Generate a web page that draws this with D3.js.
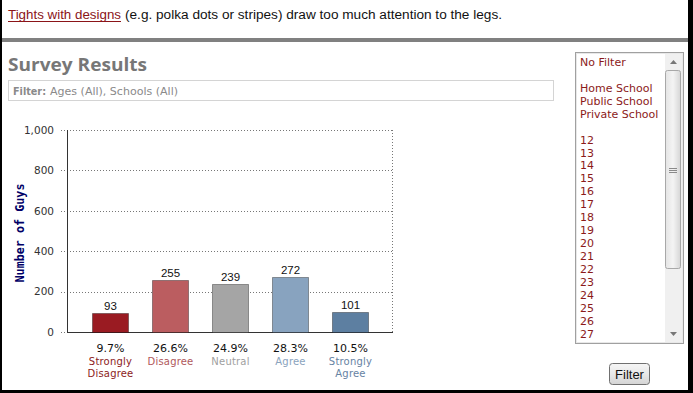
<!DOCTYPE html>
<html><head><meta charset="utf-8">
<script src="https://cdn.jsdelivr.net/npm/d3@7"></script>
<style>html,body{margin:0;padding:0;background:#fff;overflow:hidden}svg{display:block}</style>
</head><body>
<script>
// ---- data ----
const categories = ["Strongly Disagree", "Disagree", "Neutral", "Agree", "Strongly Agree"];
const labelLines = [["Strongly", "Disagree"], ["Disagree"], ["Neutral"], ["Agree"], ["Strongly", "Agree"]];
const values = [93, 255, 239, 272, 101];
const percents = ["9.7%", "26.6%", "24.9%", "28.3%", "10.5%"];
const yTicks = [0, 200, 400, 600, 800, 1000];
const barColors = ["#9a1b22", "#bb5d60", "#a5a5a5", "#88a3bf", "#5d7fa1"];
const labelColors = ["#8c1c22", "#b0585c", "#a0a0a0", "#8aa3bd", "#6683a3"];
const listItems = ["No Filter", "", "Home School", "Public School", "Private School", "",
  "12","13","14","15","16","17","18","19","20","21","22","23","24","25","26","27"];

const W = 693, H = 393;
const svg = d3.select("body").append("svg").attr("width", W).attr("height", H);
const defs = svg.append("defs");

svg.append("rect").attr("x",0).attr("y",0).attr("width",W).attr("height",H).attr("fill","#fff");

// header sentence
svg.append("text").attr("x", 8).attr("y", 19)
  .attr("font-family", "'Liberation Sans', Arial, sans-serif").attr("font-size", 12.5).attr("fill", "#8b1418")
  .attr("textLength", 113).attr("lengthAdjust","spacingAndGlyphs").text("Tights with designs");
svg.append("line").attr("x1",8).attr("x2",121).attr("y1",21.5).attr("y2",21.5).attr("stroke","#8b1418");
svg.append("text").attr("x", 125).attr("y", 19)
  .attr("font-family", "'Liberation Sans', Arial, sans-serif").attr("font-size", 12.5).attr("fill","#111")
  .attr("textLength", 377).attr("lengthAdjust","spacingAndGlyphs")
  .text("(e.g. polka dots or stripes) draw too much attention to the legs.");

// gray separator
svg.append("rect").attr("x",0).attr("y",38).attr("width",W).attr("height",4).attr("fill","#808080");

// title
svg.append("text").attr("x", 8).attr("y", 71)
  .attr("font-family", "'Open Sans', sans-serif").attr("font-weight", "bold").attr("font-size", 17.5)
  .attr("fill", "#777").attr("textLength", 139).attr("lengthAdjust","spacingAndGlyphs").text("Survey Results");

// filter box
svg.append("rect").attr("x",8.5).attr("y",80.5).attr("width",545).attr("height",20)
  .attr("fill","#fff").attr("stroke","#d4d4d4");
svg.append("text").attr("x", 13).attr("y", 94.5)
  .attr("font-family", "'DejaVu Sans', Verdana, sans-serif").attr("font-size", 10).attr("fill","#8a8a8a")
  .attr("font-weight","bold").attr("textLength", 33).attr("lengthAdjust","spacingAndGlyphs").text("Filter:");
svg.append("text").attr("x", 50).attr("y", 94.5)
  .attr("font-family", "'DejaVu Sans', Verdana, sans-serif").attr("font-size", 10).attr("fill","#8a8a8a")
  .attr("textLength", 128).attr("lengthAdjust","spacingAndGlyphs").text("Ages (All), Schools (All)");

// ---- chart ----
const x0 = 67, x1 = 392, yTop = 130, yBot = 332;
const y = d3.scaleLinear().domain([0, 1000]).range([yBot, yTop]);
const x = d3.scaleBand().domain(categories).range([80, 380]).paddingInner(0.4).paddingOuter(0.2);

const yAxis = d3.axisLeft(y).tickValues(yTicks).tickFormat(d3.format(",")).tickSize(0).tickPadding(7);
const gAxis = svg.append("g").attr("transform", `translate(${x0 - 6},0)`).call(yAxis);
gAxis.select(".domain").remove();
gAxis.selectAll("text").attr("font-family", "'DejaVu Sans', Verdana, sans-serif").attr("font-size", 10.5).attr("fill","#333");

svg.append("g").selectAll("line").data(yTicks).join("line")
  .attr("x1", x0 - 6).attr("x2", x1).attr("y1", d => Math.round(y(d)) + 0.5).attr("y2", d => Math.round(y(d)) + 0.5)
  .attr("stroke", "#777").attr("stroke-dasharray", "1,2");
svg.append("line").attr("x1", x1 + 0.5).attr("x2", x1 + 0.5).attr("y1", yTop).attr("y2", yBot)
  .attr("stroke", "#777").attr("stroke-dasharray", "1,2");
svg.append("line").attr("x1", x0 + 0.5).attr("x2", x0 + 0.5).attr("y1", yTop).attr("y2", yBot + 1).attr("stroke", "#333");
svg.append("line").attr("x1", x0).attr("x2", x1 + 1).attr("y1", yBot + 0.5).attr("y2", yBot + 0.5).attr("stroke", "#333");

// y title
svg.append("text").attr("transform", `translate(24,${(yTop + yBot) / 2 + 2}) rotate(-90)`)
  .attr("text-anchor", "middle").attr("font-family", "'DejaVu Sans Mono', monospace").attr("font-weight","bold")
  .attr("font-size", 11.5).attr("fill", "#000066").attr("textLength", 99).attr("lengthAdjust","spacingAndGlyphs")
  .text("Number of Guys");

// bars
svg.append("g").selectAll("rect").data(values).join("rect")
  .attr("x", (d, i) => x(categories[i]) + 0.5).attr("width", x.bandwidth())
  .attr("y", d => Math.round(y(d)) + 0.5).attr("height", d => yBot - Math.round(y(d)))
  .attr("fill", (d, i) => barColors[i]).attr("stroke", "#000").attr("stroke-opacity", 0.35);

// value labels
svg.append("g").selectAll("text").data(values).join("text")
  .attr("x", (d, i) => x(categories[i]) + x.bandwidth() / 2 + 0.5).attr("y", d => y(d) - 3)
  .attr("text-anchor", "middle").attr("font-family", "'Liberation Sans', Arial, sans-serif")
  .attr("font-size", 11.5).attr("fill", "#111").text(d => d);

// percent labels
svg.append("g").selectAll("text").data(percents).join("text")
  .attr("x", (d, i) => x(categories[i]) + x.bandwidth() / 2 + 0.5).attr("y", 351.5)
  .attr("text-anchor", "middle").attr("font-family", "'DejaVu Sans', Verdana, sans-serif")
  .attr("font-size", 11).attr("fill", "#111").text(d => d);

// category labels
const cl = svg.append("g").selectAll("text").data(labelLines).join("text")
  .attr("text-anchor", "middle").attr("font-family", "'DejaVu Sans', Verdana, sans-serif")
  .attr("font-size", 10).attr("letter-spacing", 0.2).attr("fill", (d, i) => labelColors[i]);
cl.selectAll("tspan").data((d, i) => d.map(t => ({t, i}))).join("tspan")
  .attr("x", d => x(categories[d.i]) + x.bandwidth() / 2 + 0.5).attr("y", (d, j) => 365 + j * 12)
  .text(d => d.t);

// ---- list box ----
svg.append("rect").attr("x",575.5).attr("y",52.5).attr("width",108).attr("height",291)
  .attr("fill","#fff").attr("stroke","#a0a0a0");
svg.append("rect").attr("x",576.5).attr("y",53.5).attr("width",106).attr("height",289)
  .attr("fill","none").attr("stroke","#e8e8e8");
svg.append("g").selectAll("text").data(listItems).join("text")
  .attr("x", 580).attr("y", (d, i) => 66 + i * 12.93)
  .attr("font-family", "'DejaVu Sans', Verdana, sans-serif").attr("font-size", 11)
  .attr("fill", "#8b1a1a").text(d => d);

// scrollbar
const sg = defs.append("linearGradient").attr("id","sg").attr("x1",0).attr("x2",1).attr("y1",0).attr("y2",0);
sg.append("stop").attr("offset",0).attr("stop-color","#e4e4e4");
sg.append("stop").attr("offset",0.5).attr("stop-color","#f4f4f4");
sg.append("stop").attr("offset",1).attr("stop-color","#d6d6d6");
svg.append("rect").attr("x",665).attr("y",54).attr("width",17).attr("height",288).attr("fill","#f0f0f0");
svg.append("rect").attr("x",665.5).attr("y",70.5).attr("width",15).attr("height",198).attr("rx",2)
  .attr("fill","url(#sg)").attr("stroke","#a8a8a8");
svg.append("g").selectAll("line").data([0,1,2]).join("line")
  .attr("x1",669).attr("x2",677).attr("y1",d=>168.5+d*2).attr("y2",d=>168.5+d*2).attr("stroke","#8a8a8a");
svg.append("path").attr("d","M670,64 L673.5,60 L677,64 Z").attr("fill","#777");
svg.append("path").attr("d","M670,332 L673.5,336 L677,332 Z").attr("fill","#777");

// filter button
const bg = defs.append("linearGradient").attr("id","bg").attr("x1",0).attr("x2",0).attr("y1",0).attr("y2",1);
bg.append("stop").attr("offset",0).attr("stop-color","#f6f6f6");
bg.append("stop").attr("offset",0.5).attr("stop-color","#e8e8e8");
bg.append("stop").attr("offset",1).attr("stop-color","#d4d4d4");
svg.append("rect").attr("x",609.5).attr("y",363.5).attr("width",40).attr("height",21).attr("rx",3)
  .attr("fill","url(#bg)").attr("stroke","#707070");
svg.append("text").attr("x",629.5).attr("y",379).attr("text-anchor","middle")
  .attr("font-family","'Liberation Sans', Arial, sans-serif").attr("font-size",13).attr("fill","#111").text("Filter");

// black frame edges
svg.append("rect").attr("x",0).attr("y",0).attr("width",2).attr("height",H).attr("fill","#000");
svg.append("rect").attr("x",688).attr("y",0).attr("width",5).attr("height",H).attr("fill","#000");
svg.append("rect").attr("x",0).attr("y",390).attr("width",W).attr("height",3).attr("fill","#000");
</script>
</body></html>
